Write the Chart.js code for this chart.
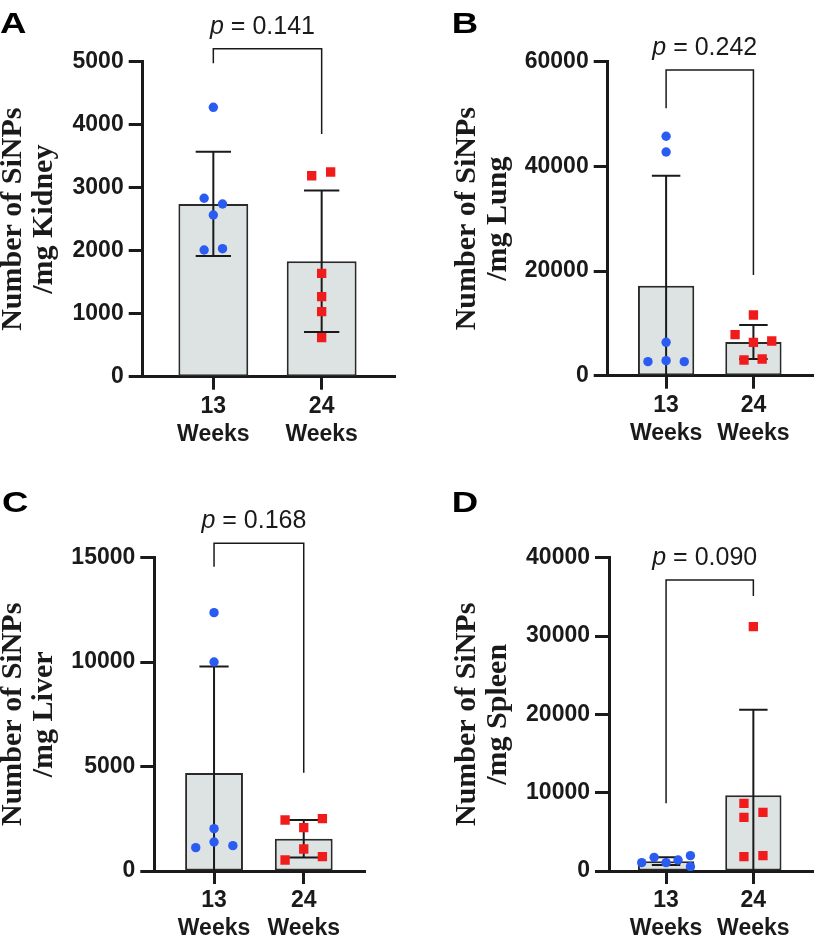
<!DOCTYPE html>
<html><head><meta charset="utf-8">
<script src="https://cdn.jsdelivr.net/npm/chart.js@4.4.1/dist/chart.umd.min.js"></script>
<style>
html,body{margin:0;padding:0;background:#fff;width:819px;height:938px;overflow:hidden;}
canvas{position:absolute;}
</style></head><body>
<canvas id="cA" width="410" height="470" style="left:0px;top:0px;width:410px;height:470px"></canvas>
<canvas id="cB" width="410" height="470" style="left:410px;top:0px;width:410px;height:470px"></canvas>
<canvas id="cC" width="410" height="470" style="left:0px;top:470px;width:410px;height:470px"></canvas>
<canvas id="cD" width="410" height="470" style="left:410px;top:470px;width:410px;height:470px"></canvas>
<script>
// ---------------- data ----------------
const categories = ['13', '24'];
const categorySub = 'Weeks';
const panelLetters = ['A', 'B', 'C', 'D'];
const organs = ['Kidney', 'Lung', 'Liver', 'Spleen'];
const yTitleLine1 = 'Number of SiNPs';
const yMax = [5000, 60000, 15000, 40000];
const yStep = [1000, 20000, 5000, 10000];
const pValues = ['0.141', '0.242', '0.168', '0.090'];

// individual points (13 weeks / 24 weeks)
const kidney13 = [4276, 2832, 2741, 2567, 2011, 2032];
const kidney24 = [3190, 3249, 1641, 1270, 1032, 619];
const lung13 = [45750, 42750, 6380, 2680, 2870, 2680];
const lung24 = [11600, 7835, 6380, 6630, 3000, 3190];
const liver13 = [12370, 10007, 2027, 1389, 1117, 1213];
const liver24 = [2442, 2506, 2075, 1053, 527, 686];
const spleen13 = [1064, 1745, 1064, 1404, 1957, 553];
const spleen24 = [31190, 8640, 7490, 6850, 1830, 1957];

// bar heights (mean) and error bars (SD)
const kidneyMean = [2743, 1833];
const kidneySD = [828, 1124];
const lungMean = [17185, 6440];
const lungSD = [21033, 3250];
const liverMean = [4687, 1548];
const liverSD = [5101, 897];
const spleenMean = [1260, 9660];
const spleenSD = [500, 10935];

// significance bracket: [top, left leg end, right leg end] in y units
const kidneyBracket = [5206, 4975, 3853];
const lungBracket = [58420, 51100, 19240];
const liverBracket = [15690, 14570, 4707];
const spleenBracket = [37150, 8640, 35110];

// horizontal scatter offsets (fraction of category spacing)
const kidneyJit13 = [0, -0.085, 0.085, 0, -0.085, 0.085];
const kidneyJit24 = [-0.092, 0.083, 0, 0, 0, 0];
const lungJit13 = [0, 0, 0, -0.208, 0, 0.208];
const lungJit24 = [0, -0.21, 0, 0.21, -0.108, 0.1];
const liverJit13 = [0, 0, 0, 0, -0.204, 0.21];
const liverJit24 = [-0.208, 0.208, 0, 0, -0.208, 0.208];
const spleenJit13 = [-0.279, -0.137, 0, 0.137, 0.279, 0.279];
const spleenJit24 = [0, -0.108, 0.11, -0.108, -0.108, 0.11];

// ---------------- styles / layout ----------------
const INK = '#1a1a1a';
const BAR_FILL = '#dde2e3';
const BLUE = '#2b5cf2';
const RED = '#f01c1c';
const SANS = '"Liberation Sans", Arial, Helvetica, sans-serif';
const SERIF = '"Liberation Serif", "Times New Roman", serif';

// chart-area rectangles in canvas-local px
const layouts = [
  {padLeft: 0,  left: 142.7, top: 61.7, right: 395, bottom: 376.7, xMin: -0.652, xMax: 1.677, letterX: 0,  letterY: 33},
  {padLeft: 44, left: 197.7, top: 61.7, right: 409, bottom: 375.7, xMin: -0.669, xMax: 1.687, letterX: 41.7, letterY: 33},
  {padLeft: 0,  left: 154.3, top: 87.7, right: 365, bottom: 401,   xMin: -0.666, xMax: 1.683, letterX: 2,  letterY: 41.7},
  {padLeft: 44, left: 199,   top: 87.7, right: 409, bottom: 401,   xMin: -0.654, xMax: 1.688, letterX: 41.7, letterY: 41.7}
];

const extrasPlugin = {
  id: 'panelExtras',
  afterDatasetDraw(chart, args, opts) {
    if (args.index !== 0) return;
    const {ctx, chartArea} = chart;
    const xs = chart.scales.x, ys = chart.scales.y;
    const unit = xs.getPixelForValue(1) - xs.getPixelForValue(0);
    ctx.save();
    ctx.beginPath();
    ctx.rect(chartArea.left, chartArea.top - 5, chartArea.right - chartArea.left, chartArea.bottom - chartArea.top + 5);
    ctx.clip();
    ctx.strokeStyle = INK;
    ctx.lineWidth = 2;
    opts.means.forEach((m, i) => {
      const cx = xs.getPixelForValue(i);
      const hi = m + opts.sds[i];
      const lo = m - opts.sds[i];
      const yHi = ys.getPixelForValue(hi);
      const yLo = ys.getPixelForValue(Math.max(0, lo));
      const cap = 0.163 * unit;
      ctx.beginPath();
      ctx.moveTo(cx, yHi); ctx.lineTo(cx, yLo);
      ctx.moveTo(cx - cap, yHi); ctx.lineTo(cx + cap, yHi);
      if (lo > 0) { ctx.moveTo(cx - cap, yLo); ctx.lineTo(cx + cap, yLo); }
      ctx.stroke();
    });
    ctx.restore();
  },
  afterDraw(chart, args, opts) {
    const {ctx} = chart;
    const xs = chart.scales.x, ys = chart.scales.y;
    const x0 = xs.getPixelForValue(0), x1 = xs.getPixelForValue(1);
    const b = opts.bracket;
    const yT = ys.getPixelForValue(b[0]);
    ctx.save();
    ctx.strokeStyle = INK;
    ctx.lineWidth = 1.5;
    ctx.beginPath();
    ctx.moveTo(x0, ys.getPixelForValue(b[1]));
    ctx.lineTo(x0, yT);
    ctx.lineTo(x1, yT);
    ctx.lineTo(x1, ys.getPixelForValue(b[2]));
    ctx.stroke();
    // p-value text
    const fontI = 'italic 25px ' + SANS;
    const fontR = '25px ' + SANS;
    const t1 = 'p', t2 = ' = ' + opts.p;
    ctx.font = fontI; const w1 = ctx.measureText(t1).width;
    ctx.font = fontR; const w2 = ctx.measureText(t2).width;
    const cx = (x0 + x1) / 2 - 5;
    const startX = cx - (w1 + w2) / 2;
    const base = yT - 15;
    ctx.fillStyle = INK;
    ctx.textBaseline = 'alphabetic';
    ctx.textAlign = 'left';
    ctx.font = fontI; ctx.fillText(t1, startX, base);
    ctx.font = fontR; ctx.fillText(t2, startX + w1, base);
    // panel letter
    ctx.translate(opts.letterX, opts.letterY);
    ctx.scale(1.22, 1);
    ctx.font = 'bold 30px ' + SANS;
    ctx.fillStyle = '#000';
    ctx.fillText(opts.letter, 0, 0);
    ctx.restore();
  }
};

function buildPanel(id, k, g13, g24, j13, j24, means, sds, bracket) {
  const L = layouts[k];
  const W = 410, H = 470;
  return new Chart(document.getElementById(id), {
    type: 'bar',
    data: {
      datasets: [
        {type: 'bar', data: means.map((m, i) => ({x: i, y: m})), backgroundColor: BAR_FILL,
         borderColor: '#2a2a2a', borderWidth: 2, borderSkipped: false,
         categoryPercentage: 1, barPercentage: 0.645, order: 3},
        {type: 'scatter', data: g13.map((v, n) => ({x: 0 + j13[n], y: v})), pointStyle: 'circle',
         pointRadius: 4.7, backgroundColor: BLUE, pointBackgroundColor: BLUE, borderWidth: 0, pointBorderWidth: 0, order: 2},
        {type: 'scatter', data: g24.map((v, n) => ({x: 1 + j24[n], y: v})), pointStyle: 'rect',
         pointRadius: 6.6, backgroundColor: RED, pointBackgroundColor: RED, borderWidth: 0, pointBorderWidth: 0, order: 1}
      ]
    },
    options: {
      responsive: false,
      animation: false,
      events: [],
      layout: {padding: {left: L.padLeft, top: L.top, right: W - L.right, bottom: 0}},
      plugins: {
        legend: {display: false},
        tooltip: {enabled: false},
        panelExtras: {means, sds, bracket, p: pValues[k], letter: panelLetters[k], letterX: L.letterX, letterY: L.letterY}
      },
      scales: {
        x: {
          type: 'linear', min: L.xMin, max: L.xMax, offset: false,
          afterBuildTicks: s => { s.ticks = categories.map((c, i) => ({value: i})); },
          afterFit: s => { s.height = H - L.bottom; },
          grid: {offset: false, drawOnChartArea: false, drawTicks: true, tickLength: 13, tickWidth: 3, color: INK},
          border: {display: true, width: 3, color: INK},
          ticks: {autoSkip: false, maxRotation: 0, minRotation: 0, padding: 3, color: INK,
                  font: {family: SANS, size: 23, weight: 'bold', lineHeight: 1.217},
                  callback: v => [categories[Math.round(v)], categorySub]}
        },
        y: {
          min: 0, max: yMax[k],
          afterFit: s => { s.width = L.left - L.padLeft; },
          grid: {drawOnChartArea: false, drawTicks: true, tickLength: 14, tickWidth: 3, color: INK},
          border: {display: true, width: 3, color: INK},
          ticks: {stepSize: yStep[k], padding: 5, color: INK,
                  font: {family: SANS, size: 23, weight: 'bold'},
                  callback: v => String(v)},
          title: {display: true, text: [yTitleLine1, '/mg ' + organs[k]], color: INK,
                  font: {family: SERIF, size: 30, weight: 'bold', lineHeight: 1.05},
                  padding: {top: -3, bottom: 0}}
        }
      }
    },
    plugins: [extrasPlugin]
  });
}

buildPanel('cA', 0, kidney13, kidney24, kidneyJit13, kidneyJit24, kidneyMean, kidneySD, kidneyBracket);
buildPanel('cB', 1, lung13, lung24, lungJit13, lungJit24, lungMean, lungSD, lungBracket);
buildPanel('cC', 2, liver13, liver24, liverJit13, liverJit24, liverMean, liverSD, liverBracket);
buildPanel('cD', 3, spleen13, spleen24, spleenJit13, spleenJit24, spleenMean, spleenSD, spleenBracket);
</script>
</body></html>
